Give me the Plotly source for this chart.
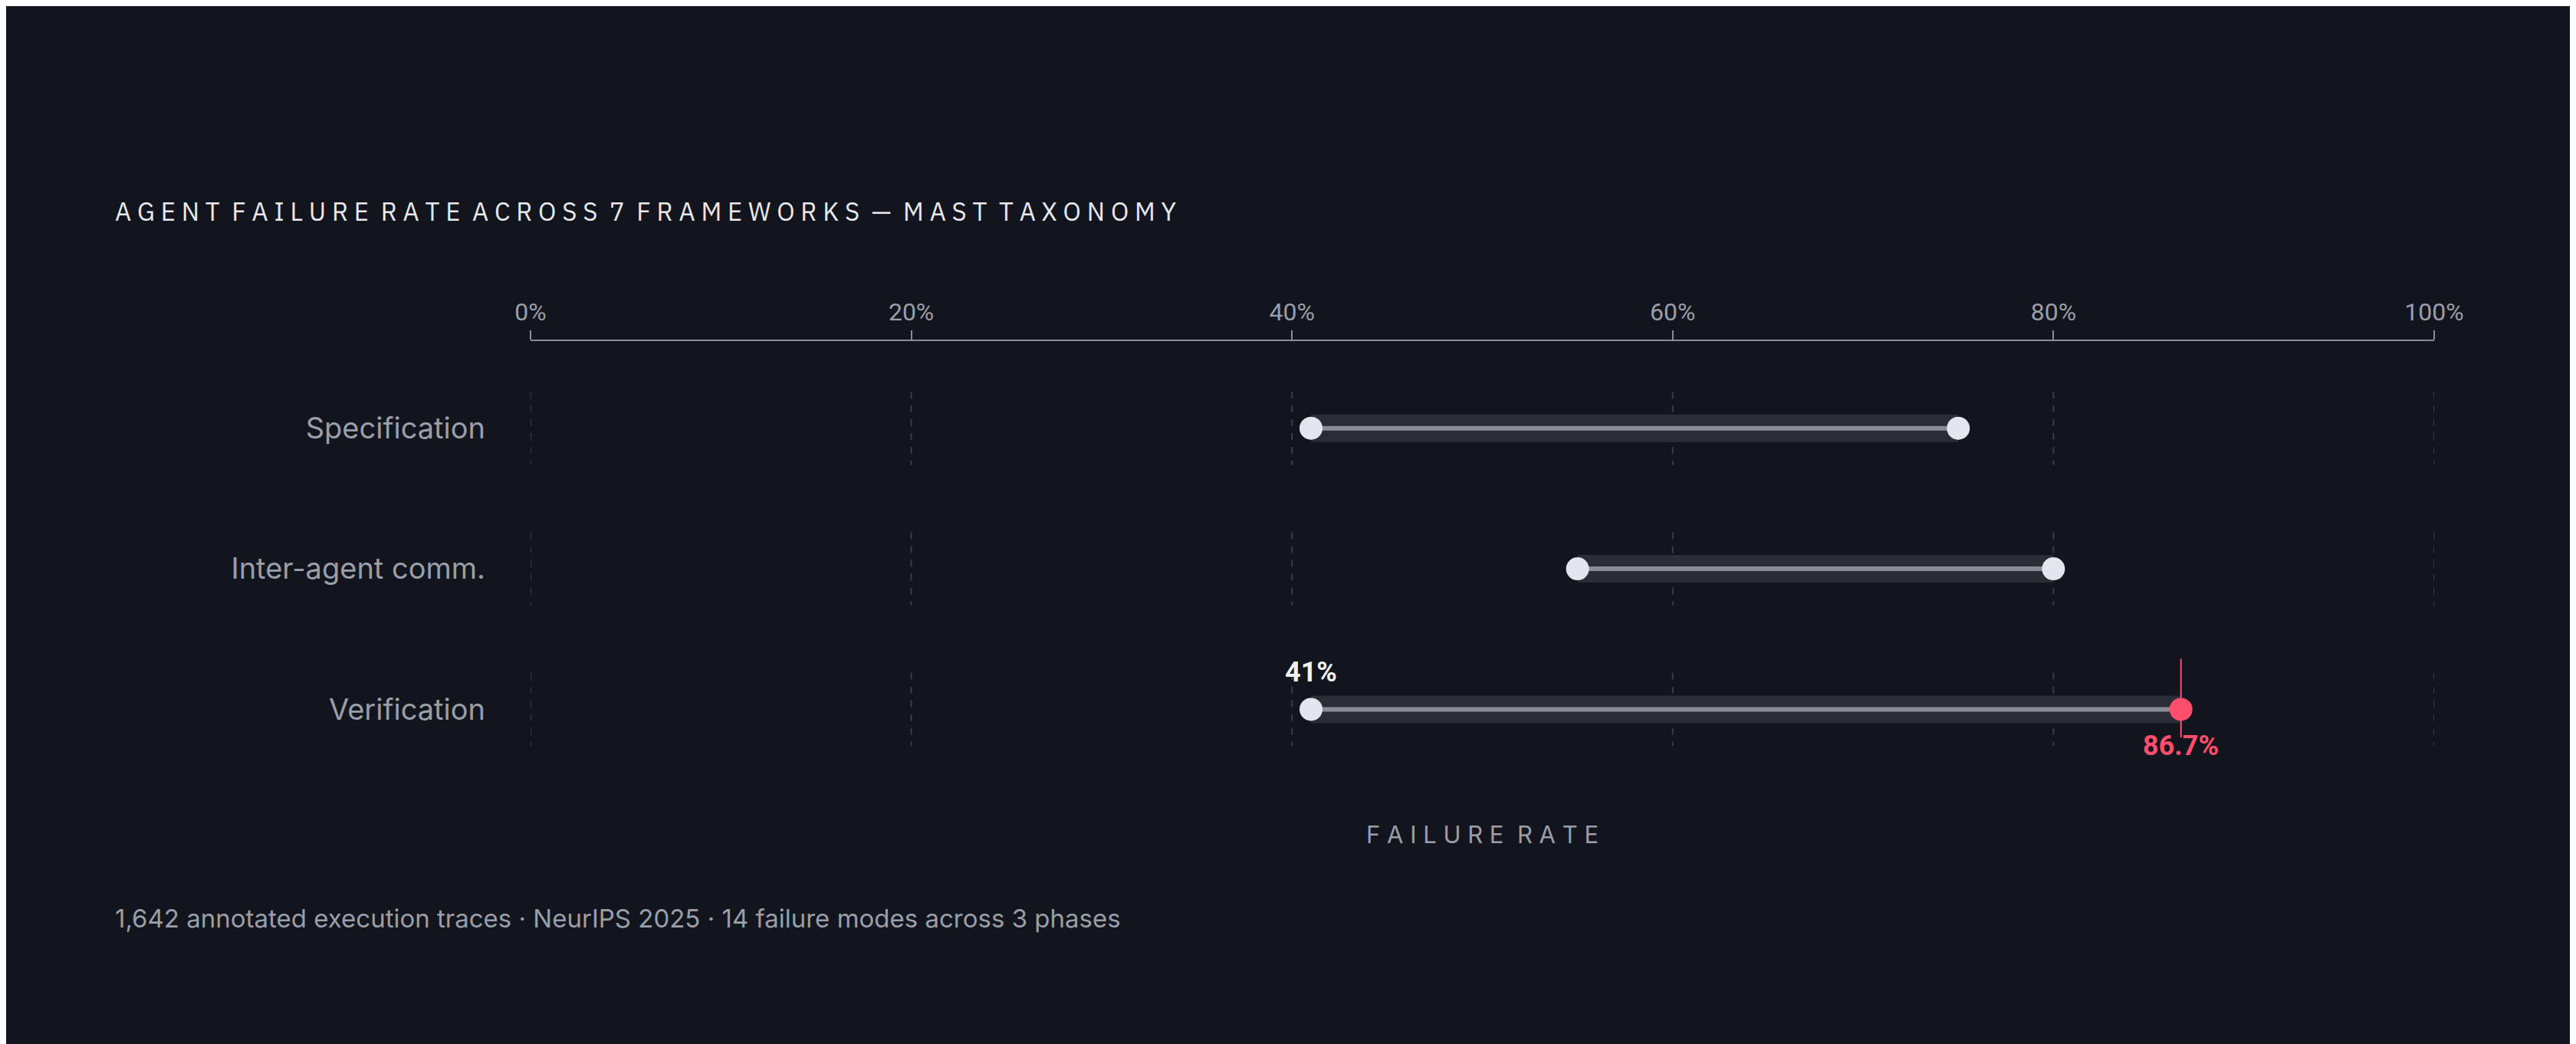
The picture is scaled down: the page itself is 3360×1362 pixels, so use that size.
import plotly.graph_objects as go

categories = ["Specification", "Inter-agent comm.", "Verification"]
start_vals = [41, 55, 41]
end_vals = [75, 80, 86.7]
tick_vals = [0, 20, 40, 60, 80, 100]
tick_text = ["0%", "20%", "40%", "60%", "80%", "100%"]
highlight_idx = 2

BG = "#12151d"
GRAY = "#9a9ea8"
RED = "#ff4d6d"

fig = go.Figure()
for i, c in enumerate(categories):
    fig.add_trace(go.Scatter(x=[start_vals[i], end_vals[i]], y=[c, c], mode="lines",
                             line=dict(color="#2a2d36", width=36), hoverinfo="skip", showlegend=False))
    fig.add_trace(go.Scatter(x=[start_vals[i], end_vals[i]], y=[c, c], mode="lines",
                             line=dict(color="#8a8d95", width=6), hoverinfo="skip", showlegend=False))
    end_col = RED if i == highlight_idx else "#e4e6ef"
    fig.add_trace(go.Scatter(x=[start_vals[i], end_vals[i]], y=[c, c], mode="markers",
                             marker=dict(size=30, color=["#e4e6ef", end_col], line=dict(width=0)),
                             hoverinfo="skip", showlegend=False))

shapes = []
for i in range(len(categories)):
    for t in tick_vals:
        shapes.append(dict(type="line", xref="x", yref="y", x0=t, x1=t, y0=i - 0.26, y1=i + 0.26,
                           line=dict(color="#3a3d46", width=2, dash="dash"), layer="below"))
hx = end_vals[highlight_idx]
shapes.append(dict(type="line", xref="x", yref="y", x0=hx, x1=hx,
                   y0=highlight_idx - 0.36, y1=highlight_idx + 0.2, line=dict(color=RED, width=2)))
fig.update_layout(shapes=shapes)

fig.add_annotation(x=start_vals[highlight_idx], y=categories[highlight_idx], text="<b>41%</b>",
                   showarrow=False, yshift=48, font=dict(size=36, color="#f0f0f5", family="Roboto"))
fig.add_annotation(x=hx, y=categories[highlight_idx], text="<b>86.7%</b>",
                   showarrow=False, yshift=-48, font=dict(size=36, color=RED, family="Roboto"))

fig.add_annotation(xref="paper", yref="paper", x=-0.219, y=1.0, yshift=170, xanchor="left", yanchor="middle",
                   text="A G E N T  F A I L U R E  R A T E  A C R O S S  7  F R A M E W O R K S  —  M A S T  T A X O N O M Y",
                   showarrow=False, font=dict(size=33, color="#e8e8ee", family="IBM Plex Sans, Inter"))
fig.add_annotation(xref="paper", yref="paper", x=0.5, y=0, yshift=-80, yanchor="middle",
                   text="F A I L U R E  R A T E", showarrow=False,
                   font=dict(size=31, color=GRAY, family="Inter"))
fig.add_annotation(xref="paper", yref="paper", x=-0.219, y=0, yshift=-190, xanchor="left", yanchor="middle",
                   text="1,642 annotated execution traces · NeurIPS 2025 · 14 failure modes across 3 phases",
                   showarrow=False, font=dict(size=33, color=GRAY, family="Inter"))

fig.update_layout(
    width=3360, height=1362, paper_bgcolor=BG, plot_bgcolor=BG,
    margin=dict(l=684, r=193, t=437, b=362),
    xaxis=dict(range=[0, 100], side="top", tickvals=tick_vals, ticktext=tick_text,
               showgrid=False, zeroline=False, showline=True, linecolor="#8a8d95", linewidth=2,
               ticks="outside", ticklen=12, tickcolor="#8a8d95", tickwidth=2,
               tickfont=dict(size=32, color=GRAY, family="Roboto")),
    yaxis=dict(type="category", categoryorder="array", categoryarray=categories,
               range=[2.45, -0.62], showgrid=False, zeroline=False, showline=False,
               ticks="", ticklabelstandoff=58, tickfont=dict(size=38, color=GRAY, family="Inter")),
)
fig.write_html("out.html")
